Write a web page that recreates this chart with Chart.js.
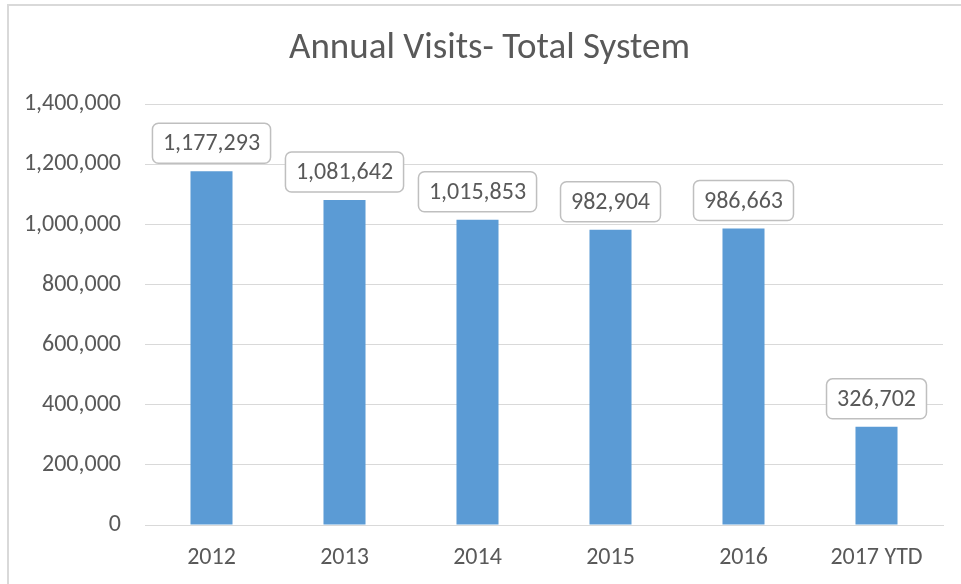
<!DOCTYPE html>
<html>
<head>
<meta charset="utf-8">
<script src="https://cdn.jsdelivr.net/npm/chart.js@4"></script>
<style>
  html, body { margin: 0; padding: 0; background: #ffffff; overflow: hidden; width: 961px; height: 584px; }
  #frame { position: absolute; left: 7px; top: 4px; width: 1000px; height: 1000px; border: 2px solid #d9d9d9; box-sizing: border-box; }
  #chart { position: absolute; left: 8px; top: 5px; }
</style>
</head>
<body>
<div id="frame"></div>
<canvas id="chart" width="963" height="579"></canvas>
<script>
// Annual visit totals per year
const categories = ['2012', '2013', '2014', '2015', '2016', '2017 YTD'];
const visits = [1177293, 1081642, 1015853, 982904, 986663, 326702];
const yTicks = [0, 200000, 400000, 600000, 800000, 1000000, 1200000, 1400000];
const chartTitle = 'Annual Visits- Total System';

const FONT = 'Carlito, Lato, sans-serif';
const TEXT = '#595959';
const fmt = v => v.toLocaleString('en-US');

// Value callouts: rounded boxes above each bar
const callouts = {
  id: 'callouts',
  afterDatasetsDraw(chart) {
    const ctx = chart.ctx;
    const meta = chart.getDatasetMeta(0);
    const values = chart.data.datasets[0].data;
    ctx.save();
    ctx.font = '24px ' + FONT;
    ctx.textAlign = 'center';
    ctx.textBaseline = 'middle';
    meta.data.forEach((bar, i) => {
      const text = fmt(values[i]);
      const w = ctx.measureText(text).width + 21;
      const h = 40;
      const x = bar.x - w / 2;
      const y = bar.y - 8 - h;
      ctx.beginPath();
      ctx.roundRect(x, y, w, h, 6);
      ctx.fillStyle = '#ffffff';
      ctx.fill();
      ctx.lineWidth = 1.5;
      ctx.strokeStyle = '#bfbfbf';
      ctx.stroke();
      ctx.fillStyle = TEXT;
      ctx.fillText(text, bar.x, y + h / 2 + 1);
    });
    ctx.restore();
  }
};

new Chart(document.getElementById('chart'), {
  type: 'bar',
  data: {
    labels: categories,
    datasets: [{
      data: visits,
      backgroundColor: '#5b9bd5',
      borderWidth: 0,
      categoryPercentage: 1,
      barPercentage: 0.316
    }]
  },
  options: {
    responsive: false,
    animation: false,
    devicePixelRatio: 1,
    layout: { padding: 0 },
    plugins: {
      legend: { display: false },
      tooltip: { enabled: false },
      title: {
        display: true,
        text: chartTitle,
        color: TEXT,
        font: { family: FONT, size: 37, weight: 'normal' },
        lineHeight: 1.2,
        padding: { top: 22, bottom: 33 }
      }
    },
    scales: {
      x: {
        grid: { display: false },
        border: { display: true, color: '#d9d9d9', width: 1 },
        ticks: { color: TEXT, font: { family: FONT, size: 24 }, padding: 11, maxRotation: 0 },
        afterFit(scale) { scale.height = 59; }
      },
      y: {
        min: 0,
        max: 1400000,
        border: { display: false },
        grid: { color: '#d9d9d9', lineWidth: 1, drawTicks: false },
        afterBuildTicks(scale) { scale.ticks = yTicks.map(v => ({ value: v })); },
        ticks: { color: TEXT, font: { family: FONT, size: 24 }, padding: 24, callback: v => fmt(v) },
        afterFit(scale) { scale.width = 137; }
      },
      // empty right-hand margin of the plot area
      yRight: {
        position: 'right',
        display: true,
        grid: { display: false, drawTicks: false },
        border: { display: false },
        ticks: { display: false },
        afterFit(scale) { scale.width = 28; }
      }
    }
  },
  plugins: [callouts]
});
</script>
</body>
</html>
